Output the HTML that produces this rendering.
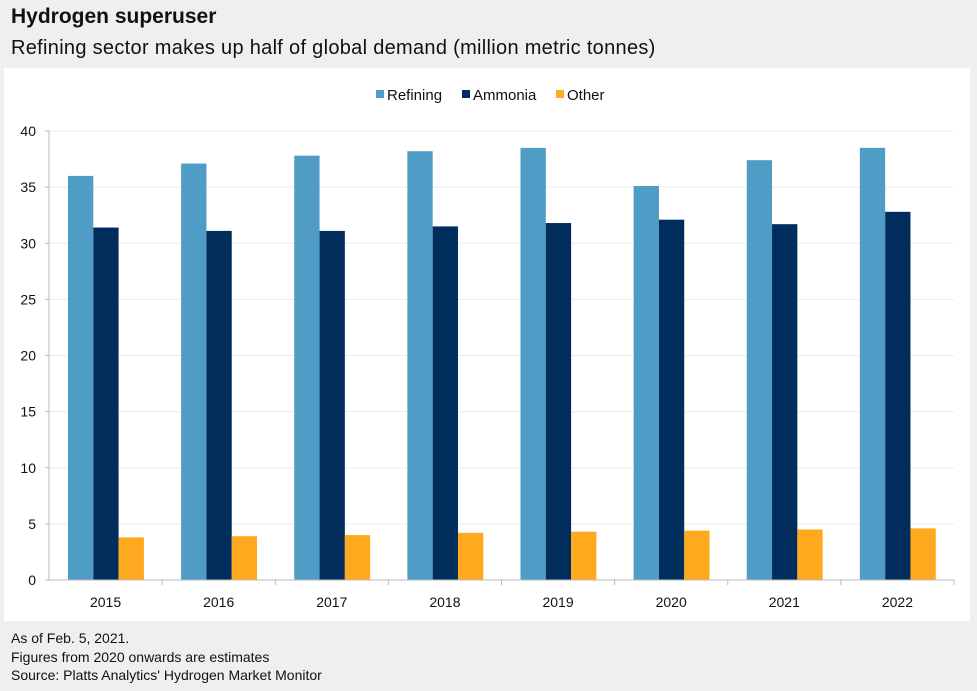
<!DOCTYPE html>
<html><head><meta charset="utf-8"><style>
body{margin:0;width:977px;height:691px;background:#efefef;font-family:"Liberation Sans",sans-serif;overflow:hidden;position:relative}
.t{position:absolute;left:11px;color:#111;white-space:nowrap}
</style></head><body>
<div class="t" style="top:5px;font-size:21px;font-weight:bold">Hydrogen superuser</div>
<div class="t" style="top:37px;font-size:20px;letter-spacing:0.3px">Refining sector makes up half of global demand (million metric tonnes)</div>
<svg id="c" style="position:absolute;left:0;top:0" width="977" height="691"></svg>
<div class="t" style="top:630px;font-size:14px">As of Feb. 5, 2021.</div>
<div class="t" style="top:649px;font-size:14px">Figures from 2020 onwards are estimates</div>
<div class="t" style="top:667px;font-size:14px">Source: Platts Analytics' Hydrogen Market Monitor</div>
<script>
const categories=["2015","2016","2017","2018","2019","2020","2021","2022"];
const refining=[36,37.1,37.8,38.2,38.5,35.1,37.4,38.5];
const ammonia=[31.4,31.1,31.1,31.5,31.8,32.1,31.7,32.8];
const other=[3.8,3.9,4.0,4.2,4.3,4.4,4.5,4.6];
const yTicks=[0,5,10,15,20,25,30,35,40];
const svg=document.getElementById('c');const NS='http://www.w3.org/2000/svg';
function mk(t,a,p){const e=document.createElementNS(NS,t);for(const k in a)e.setAttribute(k,a[k]);(p||svg).appendChild(e);return e;}
const x0=49,x1=954,yb=580,yt=131;
const y=v=>yb-(v/40)*(yb-yt);
const band=(x1-x0)/categories.length;
const panel=mk('rect',{x:4,y:68,width:966,height:553,fill:'#fff'});


yTicks.forEach(v=>{
 if(v>0){const g=mk('line',{x1:x0,x2:x1,y1:y(v),y2:y(v),stroke:'#ebebeb','stroke-width':1});
 
 }
 const tk=mk('line',{x1:x0-4,x2:x0,y1:y(v),y2:y(v),stroke:'#bbb'});
 
 
 const t=mk('text',{x:36,y:y(v)+5,'text-anchor':'end','font-size':14,fill:'#111'});t.textContent=v;
 
 
});
const series=[[refining,'#4f9cc6','refining'],[ammonia,'#002d5c','ammonia'],[other,'#ffa91f','other']];
categories.forEach((c,i)=>{
 const bx=x0+band*i;
 series.forEach((s,j)=>{
  const v=s[0][i];
  const r=mk('rect',{x:bx+19+j*25.3,y:y(v),width:25.3,height:yb-y(v),fill:s[1]});
  
  
 });
 const t=mk('text',{x:bx+band/2,y:yb+27,'text-anchor':'middle','font-size':14,fill:'#111'});t.textContent=c;
 
 
 const tk=mk('line',{x1:bx+band,x2:bx+band,y1:yb,y2:yb+5,stroke:'#bbb'});
 
 
});
const ax=mk('line',{x1:x0,x2:x0,y1:yt,y2:yb,stroke:'#bbb'});


const xa=mk('line',{x1:x0-4,x2:x1,y1:yb,y2:yb,stroke:'#bbb'});


const leg=[['Refining','#4f9cc6',376],['Ammonia','#002d5c',462],['Other','#ffa91f',556]];
leg.forEach(l=>{
 const r=mk('rect',{x:l[2],y:90,width:8,height:8,fill:l[1]});
 
 
 const t=mk('text',{x:l[2]+11,y:100,'font-size':15,fill:'#111'});t.textContent=l[0];
 
 
});
</script>
</body></html>
